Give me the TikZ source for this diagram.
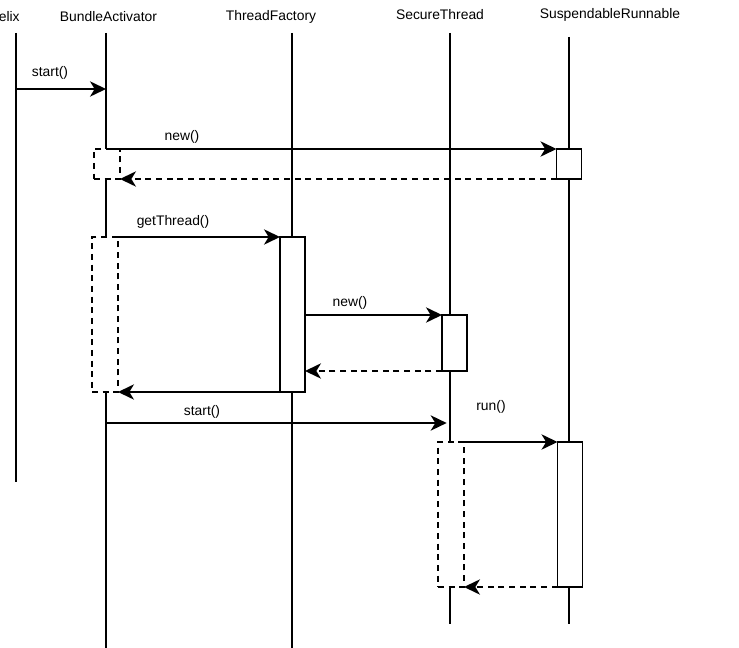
\documentclass[tikz,border=0pt]{standalone}
\usepackage{fontspec}
\setmainfont{Liberation Sans}
\usetikzlibrary{arrows.meta}
\tikzset{
	life/.style={line width=1.1pt},
	msg/.style={line width=1.1pt,-{Stealth[length=12pt,width=11.5pt,inset=3.5pt]}},
	ret/.style={msg,dash pattern=on 4.5pt off 3.5pt},
	actbox/.style={draw,line width=1.1pt,fill=white,minimum width=18.75pt,inner sep=0pt,outer sep=0pt},
	fragbox/.style={draw,line width=1.1pt,dash pattern=on 4.5pt off 3.5pt,minimum width=19.5pt,inner sep=0pt,outer sep=0pt},
	lbl/.style={font=\fontsize{10.4}{12}\selectfont,inner sep=0pt}
}
\begin{document}
\begin{tikzpicture}[x=0.75pt,y=-0.75pt]
	\useasboundingbox (0,0) rectangle (739,648);
	%HEADS
	\node[lbl] (hfelix) at (5,17) {Felix};
	\node[lbl] (hba) at (108.5,17) {BundleActivator};
	\node[lbl] (htf) at (271,17) {ThreadFactory};
	\node[lbl] (hst) at (440,15) {SecureThread};
	\node[lbl] (hsr) at (610,15) {SuspendableRunnable};
	\coordinate (felix) at (16,33);
	\coordinate (ba) at (106,33);
	\coordinate (tf) at (292,33);
	\coordinate (st) at (450,33);
	\coordinate (sr) at (569,37);
	
	%FRAGMENTS (dashed)
	\node[fragbox,minimum height=22.5pt] (f1) at (107,164) {};
	\node[fragbox,minimum height=116.25pt] (f2) at (105,314.5) {};
	\node[fragbox,minimum height=108.75pt] (f3) at (451,514.5) {};
	
	%LIFELINES
	\draw[life] (felix)--(16,482);
	\draw[life] (ba)--(ba |- f1.north);
	\draw[life] (ba |- f1.south)--(ba |- f2.north);
	\draw[life] (ba |- f2.south)--(106,648);
	\draw[life] (tf)--(292,648);
	\draw[life] (st)--(st |- f3.north);
	\draw[life] (st |- f3.south)--(450,624);
	\draw[life] (sr)--(569,624);
	
	%ACTIVATIONS
	\node[actbox,minimum height=22.5pt] (sr1) at (569,164) {};
	\node[actbox,minimum height=116.25pt] (tf1) at (292.5,314.5) {};
	\node[actbox,minimum height=42pt] (st1) at (454.5,343) {};
	\node[actbox,minimum height=108.75pt] (sr2) at (570,514.5) {};
	
	%MESSAGES
	\coordinate (s1) at (16,89);
	\coordinate (s2) at (106,423);
	\draw[msg] (s1)--(ba |- s1);
	\draw[msg] (ba |- sr1.north)--(sr1.north west);
	\draw[ret] (sr1.south west)--(f1.south east);
	\draw[msg] ([xshift=-4.5pt]f2.north east)--(tf1.north west);
	\draw[msg] (tf1.south west)--(f2.south east);
	\draw[msg] (tf1.east |- st1.north)--(st1.north west);
	\draw[ret] (st1.south west)--(tf1.east |- st1.south);
	\draw[msg,shorten >=2.5pt] (s2)--(st |- s2);
	\draw[msg] (f3.north east)--(sr2.north west);
	\draw[ret] (sr2.south west)--(f3.south east);
	
	%LABELS
	\node[lbl] (lstart) at (50,73) {start()};
	\node[lbl] (lnew) at (182,137) {new()};
	\node[lbl] (lget) at (173,222) {getThread()};
	\node[lbl] (lnew2) at (350,303) {new()};
	\node[lbl] (lstart2) at (202,412) {start()};
	\node[lbl] (lrun) at (491,407) {run()};
\end{tikzpicture}
\end{document}
